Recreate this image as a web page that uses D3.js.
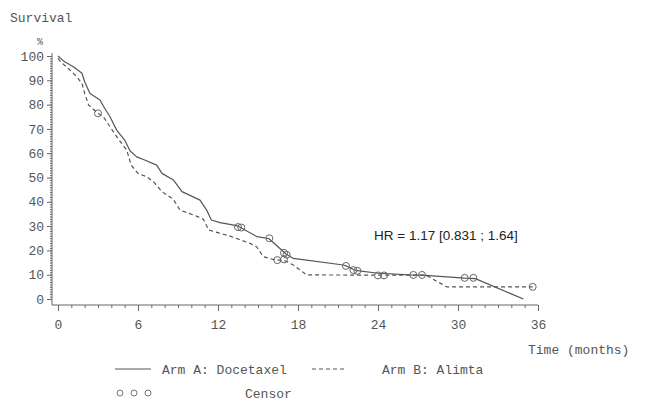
<!DOCTYPE html>
<html>
<head>
<meta charset="utf-8">
<script src="https://cdn.jsdelivr.net/npm/d3@7"></script>
<style>
  body { margin: 0; background: #fff; }
  .axis text { font-family: "Liberation Mono", monospace; font-size: 13px; fill: #555; }
  .axis line { stroke: #666; }
  .lbl { font-family: "Liberation Mono", monospace; font-size: 13px; fill: #555; }
</style>
</head>
<body>
<div id="chart"></div>
<script>
// survival curves (months, %)
var armATime = [0, 0.5, 1.15, 1.8, 2.0, 2.4, 3.15, 3.5, 3.9, 4.4, 5.0, 5.4, 5.9, 6.5, 7.4, 7.8, 8.65, 9.3, 10.65, 11.15, 11.5, 12.15, 13.4, 13.65, 14.9, 15.8, 16.5, 17.1, 17.65, 21.4, 21.7, 22.3, 24.0, 26.4, 27.3, 30.5, 31.3, 34.9];
var armASurv = [100, 97.6, 95.6, 92.9, 89.4, 84.6, 81.9, 78.5, 75, 69.5, 65.4, 61, 58.5, 57.2, 55.1, 51.7, 49, 44.2, 40.7, 36.6, 32.5, 31.4, 30.2, 29.5, 25.7, 24.9, 21.5, 18.5, 16.7, 14, 13.4, 11.8, 10.6, 9.9, 9.8, 8.6, 8.4, 0];

var armBTime = [0, 0.2, 0.9, 1.4, 1.8, 2.0, 2.3, 3.0, 3.4, 3.9, 4.4, 5.15, 5.5, 6.0, 6.65, 7.2, 7.8, 8.65, 9.15, 10.3, 10.9, 11.3, 12.9, 14.4, 14.9, 15.4, 16.2, 17.0, 17.65, 18.65, 27.6, 29.15, 35.6];
var armBSurv = [99, 97.6, 94.2, 91.5, 88.7, 84.6, 79.8, 76.4, 75, 70.9, 66.8, 61.3, 55, 51.7, 50.3, 48, 44.2, 41, 36.6, 34.3, 32.8, 28.4, 25.9, 22.9, 21.5, 17.4, 16.2, 15.8, 14, 9.9, 9.8, 5.0, 5.0];

// censored observations
var censorATime = [13.5, 13.75, 15.85, 16.95, 17.15, 21.6, 22.15, 22.45, 26.65, 27.3, 30.5, 31.15];
var censorASurv = [29.6, 29.4, 25.0, 19.0, 18.2, 13.6, 11.9, 11.6, 9.9, 9.9, 8.7, 8.7];
var censorBTime = [3.0, 16.45, 16.95, 24.0, 24.45, 35.6];
var censorBSurv = [76.4, 16.0, 16.3, 9.7, 9.7, 5.0];

var xTicks = [0, 6, 12, 18, 24, 30, 36];
var yTicks = [0, 10, 20, 30, 40, 50, 60, 70, 80, 90, 100];
var hrText = "HR = 1.17 [0.831 ; 1.64]";

var width = 662, height = 402;

var svg = d3.select("#chart").append("svg")
    .attr("width", width)
    .attr("height", height)
    .style("background", "#fff");

var x = d3.scaleLinear().domain([0, 36]).range([58, 538]);
var y = d3.scaleLinear().domain([0, 100]).range([299, 56]);

var axisX = 52, axisY = 305;

// axis lines
svg.append("line")
    .attr("x1", axisX).attr("x2", axisX)
    .attr("y1", y(100) - 3).attr("y2", axisY)
    .attr("stroke", "#666");
svg.append("line")
    .attr("x1", axisX).attr("x2", x(36))
    .attr("y1", axisY).attr("y2", axisY)
    .attr("stroke", "#666");

// minor ticks
svg.append("g")
    .attr("class", "axis")
    .attr("transform", "translate(" + axisX + ",0)")
    .call(d3.axisLeft(y).tickValues(d3.range(0, 101, 1)).tickSize(2).tickFormat(""))
    .select(".domain").remove();
svg.append("g")
    .attr("class", "axis")
    .attr("transform", "translate(0," + axisY + ")")
    .call(d3.axisBottom(x).tickValues(d3.range(0, 37, 1)).tickSize(3).tickFormat(""))
    .select(".domain").remove();

// major ticks + labels
svg.append("g")
    .attr("class", "axis")
    .attr("transform", "translate(" + axisX + ",0)")
    .call(d3.axisLeft(y).tickValues(yTicks).tickSize(5).tickPadding(3))
    .select(".domain").remove();
svg.append("g")
    .attr("class", "axis")
    .attr("transform", "translate(0," + axisY + ")")
    .call(d3.axisBottom(x).tickValues(xTicks).tickSize(6).tickPadding(9))
    .select(".domain").remove();

// titles
svg.append("text").attr("class", "lbl").attr("x", 10).attr("y", 22).text("Survival");
svg.append("text").attr("class", "lbl").attr("x", 37).attr("y", 45).style("font-size", "10px").text("%");
svg.append("text").attr("class", "lbl").attr("x", 528).attr("y", 354).text("Time (months)");

// curves
var line = d3.line()
    .x(function(d) { return x(d[0]); })
    .y(function(d) { return y(d[1]); });

var armA = d3.zip(armATime, armASurv);
var armB = d3.zip(armBTime, armBSurv);

svg.append("path")
    .datum(armB)
    .attr("d", line)
    .attr("fill", "none")
    .attr("stroke", "#555")
    .attr("stroke-width", 1.2)
    .attr("stroke-linejoin", "round")
    .attr("stroke-dasharray", "4,3");

svg.append("path")
    .datum(armA)
    .attr("d", line)
    .attr("fill", "none")
    .attr("stroke", "#555")
    .attr("stroke-width", 1.2)
    .attr("stroke-linejoin", "round");

var censors = d3.zip(censorATime, censorASurv).concat(d3.zip(censorBTime, censorBSurv));
svg.selectAll(".censor")
    .data(censors)
    .enter().append("circle")
    .attr("class", "censor")
    .attr("cx", function(d) { return x(d[0]); })
    .attr("cy", function(d) { return y(d[1]); })
    .attr("r", 3.5)
    .attr("fill", "none")
    .attr("stroke", "#666")
    .attr("stroke-width", 1);

// hazard ratio
svg.append("text")
    .attr("x", 374)
    .attr("y", 240)
    .style("font-family", "'Liberation Sans', Arial, sans-serif")
    .style("font-size", "13.5px")
    .style("fill", "#222")
    .text(hrText);

// legend
var lg = svg.append("g");
lg.append("line").attr("x1", 115).attr("x2", 151).attr("y1", 369).attr("y2", 369)
    .attr("stroke", "#555").attr("stroke-width", 1.2);
lg.append("text").attr("class", "lbl").attr("x", 162).attr("y", 374).text("Arm A: Docetaxel");
lg.append("line").attr("x1", 312).attr("x2", 344).attr("y1", 369).attr("y2", 369)
    .attr("stroke", "#555").attr("stroke-width", 1.2).attr("stroke-dasharray", "4,3");
lg.append("text").attr("class", "lbl").attr("x", 382).attr("y", 374).text("Arm B: Alimta");
lg.selectAll(".lc")
    .data([120, 134, 148])
    .enter().append("circle")
    .attr("cx", function(d) { return d; })
    .attr("cy", 393)
    .attr("r", 3)
    .attr("fill", "none")
    .attr("stroke", "#777");
lg.append("text").attr("class", "lbl").attr("x", 245).attr("y", 398).text("Censor");
</script>
</body>
</html>
